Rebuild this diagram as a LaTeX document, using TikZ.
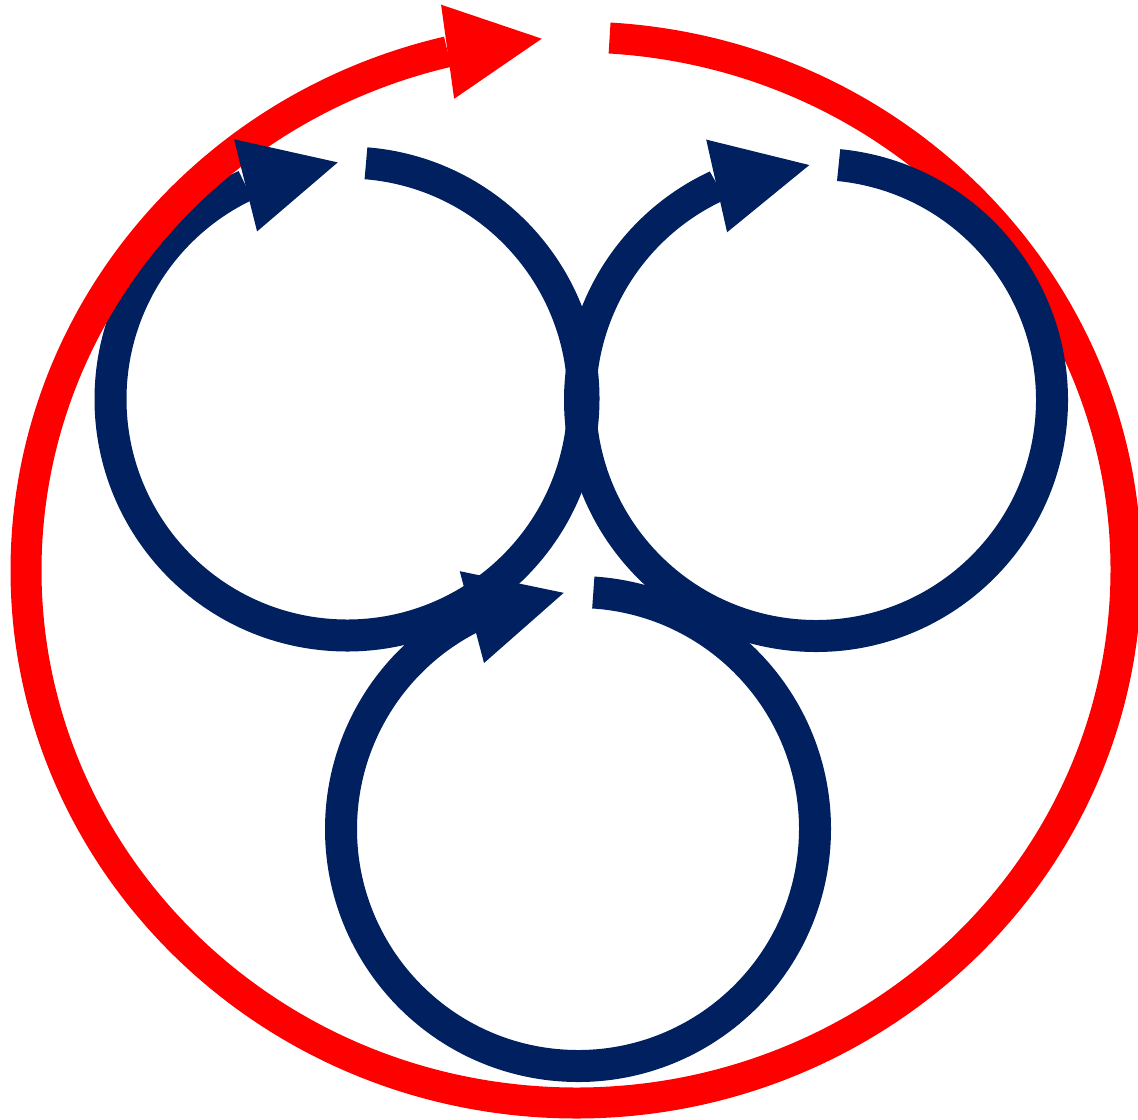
\documentclass[tikz,border=0pt]{standalone}
\usepackage{tikz}
\usetikzlibrary{arrows.meta}
\definecolor{ringred}{RGB}{255,0,0}
\definecolor{loopnavy}{RGB}{0,32,96}
\tikzset{
    redring/.style={draw=ringred, line width=0.31cm},
    navyloop/.style={draw=loopnavy, line width=0.32cm},
    bighead/.style={-{Triangle[length=0.95cm, width=0.95cm, line width=0pt]}}
}
\begin{document}
\begin{tikzpicture}
    \useasboundingbox (0,0) rectangle (11.38,11.19);
    \coordinate (ring) at (5.76,5.49);
    \coordinate (c1) at (3.47,7.20);
    \coordinate (c2) at (8.16,7.19);
    \coordinate (c3) at (5.78,2.90);
    \draw[navyloop] (c1) ++(85.4:2.365) arc[start angle=85.4, end angle=-244.6, radius=2.365];
    \draw[redring, bighead] (ring) ++(86.5:5.5 and 5.33) arc[start angle=86.5, end angle=-256.5, x radius=5.5, y radius=5.33] -- ++(7.9:0.95);
    \draw[navyloop, bighead] (c1) ++(115.4:2.365) -- ++(14:0.95);
    \draw[navyloop, bighead] (c2) ++(84.5:2.36) arc[start angle=84.5, end angle=-245.1, radius=2.36] -- ++(12.7:0.95);
    \draw[navyloop, bighead] (c3) ++(86.3:2.37) arc[start angle=86.3, end angle=-243.4, radius=2.37] -- ++(14.8:0.95);
\end{tikzpicture}
\end{document}
